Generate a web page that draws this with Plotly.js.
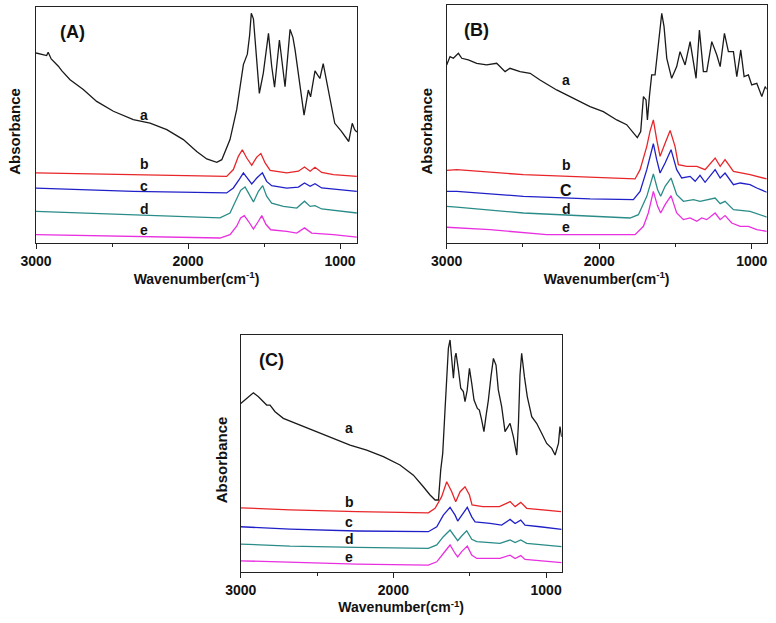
<!DOCTYPE html>
<html>
<head>
<meta charset="utf-8">
<script src="https://cdn.plot.ly/plotly-3.0.1.min.js"></script>
<style>html,body{margin:0;padding:0;background:#fff;}#chart{width:776px;height:623px;}</style>
</head>
<body>
<div id="chart"></div>
<script>
// ---------- Panel A ----------
const A_a_wn = [3000,2960,2930,2920,2900,2853,2831,2776,2689,2601,2491,2360,2250,2140,2031,1943,1877,1811,1778,1724,1680,1636,1610,1595,1584,1570,1550,1531,1505,1471,1450,1431,1399,1380,1362,1329,1310,1296,1265,1237,1209,1194,1165,1133,1111,1078,1035,991,943,920,904,890];
const A_a_abs = [80.5,80,79.4,80.8,78,74.9,73,69.2,65,60,55.8,52.3,50.8,48,43.8,38.8,35.6,34.2,35.3,43.8,56.5,75.6,80,88,97.3,95,80,63.4,72,88.8,75,66,86,75,66.2,90.5,87,81.8,68,54.2,64.8,61.9,72.9,69.7,76,64.8,50.7,47.3,43,50.7,48,47];
const A_b_wn = [3000,2360,1746,1702,1669,1643,1614,1581,1548,1521,1493,1460,1351,1274,1234,1197,1165,1121,1044,890];
const A_b_abs = [29.7,29,28.2,31.1,36.7,39.5,36,32.9,36.4,37.9,33.9,30.8,29.7,30.4,32.2,30.4,32.1,29.9,29,28.2];
const A_c_wn = [3000,2360,1746,1702,1662,1636,1610,1581,1548,1511,1483,1450,1351,1274,1234,1197,1165,1121,890];
const A_c_abs = [23.2,21.9,21.2,23.3,27.1,29.7,27.5,25,27.5,29.7,26.1,24.3,23.2,23.7,25.4,24,25.1,23.3,21.9];
const A_d_wn = [3000,2360,1790,1724,1680,1654,1625,1599,1570,1537,1509,1483,1450,1373,1285,1234,1197,1165,1121,890];
const A_d_abs = [13.4,12,10.6,12.7,18.4,22.3,23.7,20.5,17.4,21.9,24.3,19.8,16.9,15.5,14.8,17.7,15.5,15.8,14.4,12.7];
const A_e_wn = [3000,2360,1790,1724,1680,1654,1630,1603,1570,1537,1515,1487,1456,1351,1285,1234,1187,1044,890];
const A_e_abs = [3.5,2.8,2.1,3.5,7.1,10.6,11.6,9.2,5.9,9.2,11.6,7.8,5.6,4.9,4.2,6.4,4.2,3.5,2.5];

// ---------- Panel B ----------
const B_a_wn = [3000,2978,2956,2923,2901,2858,2803,2738,2672,2617,2585,2519,2453,2388,2279,2169,2060,1973,1885,1820,1776,1750,1728,1710,1693,1684,1671,1656,1634,1612,1590,1575,1557,1525,1492,1470,1437,1404,1382,1365,1343,1317,1295,1262,1229,1207,1179,1153,1120,1098,1072,1050,1022,1000,967,934,912,901];
const B_a_abs = [74.8,78.3,77.6,79.7,77.6,76.9,75.5,74.8,75.5,72,73.4,72,71.3,68.5,64.3,60.8,57.3,55.2,51.7,49.7,46.2,44.3,46.8,61.5,60.1,51.7,61.5,70.6,70.6,84.6,96.5,90.9,77.6,69.2,74.1,80.4,74.8,84.6,76.9,69.2,89.5,72,72,84.6,79,74.1,88.1,80.4,80.4,69.9,81.1,69.9,70.6,66.4,67.1,61.5,65.7,64.6];
const B_b_wn = [3000,2934,2497,2060,1765,1732,1688,1667,1645,1623,1601,1568,1535,1503,1481,1426,1360,1306,1240,1207,1175,1120,1011,901];
const B_b_abs = [30.5,30.8,28.7,27.6,26.9,30.8,40.6,46.9,51.7,43.4,36.4,41.9,47.3,40.6,32.9,32.2,32.2,30.8,35.7,32.2,35,30.1,28.7,26.9];
const B_c_wn = [3000,2934,2497,2060,1776,1732,1688,1645,1623,1601,1568,1529,1492,1459,1404,1371,1339,1306,1240,1207,1175,1120,1076,1011,967,901];
const B_c_abs = [21.7,21.7,19.6,18.5,18.2,21.7,30.8,41.7,35,29.4,33.6,39.2,30.8,27.3,28,25.9,28.4,25.5,30.8,27.3,29.4,24.5,25.2,24.5,23.1,21.3];
const B_d_wn = [3000,2934,2497,2060,1798,1743,1688,1645,1617,1597,1568,1529,1492,1448,1382,1339,1240,1207,1175,1120,1011,901];
const B_d_abs = [15.4,15.1,12.6,11.2,10.5,11.9,19.6,29,22.4,19.6,23.8,27.3,20.3,17.5,18.2,17.5,18.9,16.5,17.5,14,13.3,10.9];
const B_e_wn = [3000,2716,2344,2060,1765,1710,1678,1645,1617,1597,1568,1529,1492,1448,1404,1360,1328,1295,1240,1207,1175,1131,1076,1022,967,901];
const B_e_abs = [6.6,5.6,3.5,3.5,3.5,7,12.6,21.7,15.4,12.6,16.1,19.9,12.6,9.8,10.5,9.1,10.5,9.8,12.6,9.8,11.5,8.4,7,7,5.6,4.9];

// ---------- Panel C ----------
const C_a_wn = [3000,2961,2917,2884,2830,2808,2775,2721,2611,2502,2393,2284,2175,2066,1957,1869,1804,1760,1727,1705,1690,1677,1662,1651,1640,1629,1618,1607,1596,1590,1574,1559,1542,1531,1517,1502,1487,1472,1450,1437,1422,1407,1394,1378,1361,1345,1328,1313,1291,1269,1236,1214,1192,1181,1171,1160,1142,1123,1094,1062,1029,996,963,941,919,909,898];
const C_a_abs = [71.1,73.2,75.6,73.9,70.4,70.4,67.6,64.8,62,59.2,56.3,53.5,51.4,48.6,45.1,40.8,35.9,32.4,30.3,30.3,43,50,68.3,84.5,94.4,97.9,88,81.7,90.8,92.3,85.2,77.5,76.1,71.8,76.6,85.9,79.6,72.5,69,68.3,64.1,59.2,65.5,72.5,82.4,90.1,87.3,76.8,69.7,59.2,62.7,57,49.3,62.7,83.1,92.3,82.4,73.9,65.5,62.7,58.5,54.2,52.1,49.3,54.2,61.3,57];
const C_b_wn = [3000,2677,2240,1771,1727,1684,1651,1618,1592,1563,1531,1502,1485,1415,1306,1236,1203,1166,1127,1018,902];
const C_b_abs = [27,26.1,25.4,24.9,26.8,31.7,38,33.8,29.6,33.8,35.9,32.4,28.2,27.5,27.5,29.6,27.5,29.3,26.8,26.1,25.4];
const C_c_wn = [3000,2677,2240,1771,1716,1673,1629,1596,1579,1553,1516,1487,1465,1367,1291,1236,1203,1166,1138,1040,898];
const C_c_abs = [19,18,17.2,16.9,19,23.9,27.2,23.9,21.4,23.9,27.2,23.2,21.1,20.4,19.7,22.1,20.4,21.8,19.7,19,17.9];
const C_d_wn = [3000,2677,2240,1771,1716,1673,1629,1592,1579,1553,1520,1487,1454,1302,1236,1203,1166,1127,898];
const C_d_abs = [11.7,10.8,10.3,9.9,11.3,14.8,17.6,14.1,13.1,15.1,17.3,13.7,12.7,12,13.4,12.3,13.4,12,10.6];
const C_e_wn = [3000,2677,2240,1771,1716,1673,1629,1596,1579,1553,1516,1487,1454,1302,1236,1203,1166,1138,1040,898];
const C_e_abs = [4.6,3.9,3.2,2.8,4.2,7.7,11.3,7.7,6.3,8.5,10.8,7,5.6,5.6,7,5.6,6.8,5.2,4.6,3.8];

const seriesNames = ['a','b','c','d','e'];
const panelNames = ['(A)','(B)','(C)'];
const xTitle = 'Wavenumber(cm<sup>-1</sup>)';
const yTitle = 'Absorbance';

const colors = ['#1a1a1a','#e8262a','#2020c8','#2a8c88','#e830e0'];
const panels = [
  {ax:'', data:[[A_a_wn,A_a_abs],[A_b_wn,A_b_abs],[A_c_wn,A_c_abs],[A_d_wn,A_d_abs],[A_e_wn,A_e_abs]]},
  {ax:'2', data:[[B_a_wn,B_a_abs],[B_b_wn,B_b_abs],[B_c_wn,B_c_abs],[B_d_wn,B_d_abs],[B_e_wn,B_e_abs]]},
  {ax:'3', data:[[C_a_wn,C_a_abs],[C_b_wn,C_b_abs],[C_c_wn,C_c_abs],[C_d_wn,C_d_abs],[C_e_wn,C_e_abs]]}
];

const traces = [];
panels.forEach(p => {
  p.data.forEach((d, i) => {
    traces.push({x:d[0], y:d[1], type:'scatter', mode:'lines', xaxis:'x'+p.ax, yaxis:'y'+p.ax,
      line:{color:colors[i], width:1.3, shape:'linear'}, showlegend:false, hoverinfo:'skip'});
  });
});

const font = {family:'Arial, Liberation Sans, sans-serif', color:'#111'};
function xaxis(domain, range, anchor){
  return {domain:domain, range:range, anchor:anchor, showgrid:false, zeroline:false,
    showline:true, mirror:true, linecolor:'#222', linewidth:1,
    ticks:'outside', ticklen:5, tickwidth:1, tickcolor:'#222', tick0:1000, dtick:1000,
    minor:{ticks:'outside', dtick:500, tick0:1000, ticklen:3, tickcolor:'#222', showgrid:false},
    tickfont:{family:font.family, size:14, color:'#111', weight:'bold'},
    title:{text:xTitle, font:{family:font.family, size:14, color:'#111', weight:'bold'}, standoff:4}};
}
function yaxis(domain, anchor){
  return {domain:domain, range:[0,100], anchor:anchor, showgrid:false, zeroline:false,
    showline:true, mirror:true, linecolor:'#222', linewidth:1, ticks:'', showticklabels:false};
}

const layout = {
  width:776, height:623, margin:{l:0,r:0,t:0,b:0}, paper_bgcolor:'#fff', plot_bgcolor:'#fff',
  font:font,
  xaxis: xaxis([0.0464,0.4600],[3000,889],'y'),
  yaxis: yaxis([0.6100,0.9888],'x'),
  xaxis2: xaxis([0.5756,0.9880],[3000,902],'y2'),
  yaxis2: yaxis([0.6100,0.9920],'x2'),
  xaxis3: xaxis([0.3102,0.7238],[3000,898],'y3'),
  yaxis3: yaxis([0.0823,0.4623],'x3'),
  annotations: []
};

// panel letters
[[ '', 0.115, 0.894],[ '2', 0.092, 0.895],[ '3', 0.097, 0.894]].forEach((p, k) => {
  layout.annotations.push({xref:'x'+p[0]+' domain', yref:'y'+p[0]+' domain', x:p[1], y:p[2], text:panelNames[k],
    showarrow:false, xanchor:'center', yanchor:'middle', font:{family:font.family, size:18, color:'#111', weight:'bold'}});
});
// y titles
[[0.0193,0.790],[0.5499,0.790],[0.2857,0.2624]].forEach(p => {
  layout.annotations.push({xref:'paper', yref:'paper', x:p[0], y:p[1], text:yTitle, textangle:-90,
    showarrow:false, xanchor:'center', yanchor:'middle', font:{family:font.family, size:15, color:'#111', weight:'bold'}});
});
// curve labels
const labelPos = [
  {ax:'', x:2288, y:[54.2,33.5,24.2,14.4,5.5]},
  {ax:'2', x:2215, y:[68.3,32.6,22.1,14.4,6.7]},
  {ax:'3', x:2290, y:[60.6,29.6,21.1,13.7,6.3]}
];
labelPos.forEach((lp, k) => {
  seriesNames.forEach((s, i) => {
    let txt = s, sz = 14;
    if (k === 1 && s === 'c') { txt = 'C'; sz = 16; }
    layout.annotations.push({xref:'x'+lp.ax, yref:'y'+lp.ax, x:lp.x, y:lp.y[i], text:txt, showarrow:false,
      xanchor:'center', yanchor:'middle', font:{family:font.family, size:sz, color:'#111', weight:'bold'}});
  });
});

Plotly.newPlot('chart', traces, layout, {staticPlot:true, displayModeBar:false});
</script>
</body>
</html>
